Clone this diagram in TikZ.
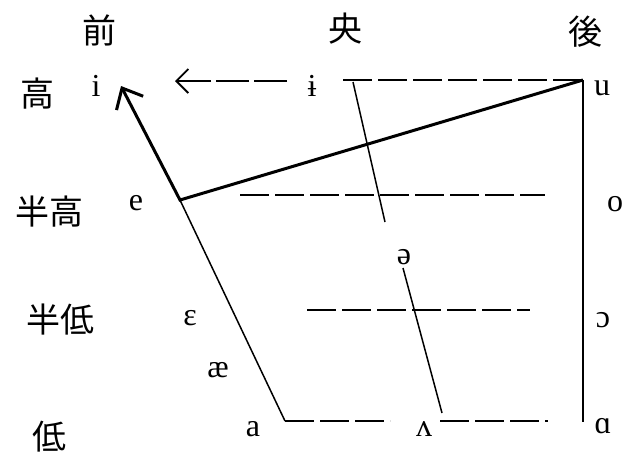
\documentclass[tikz,border=0pt]{standalone}
\usepackage{fontspec}
\setmainfont{Liberation Serif}
\newfontfamily\cjk{Noto Sans CJK JP}
\usetikzlibrary{arrows.meta}
\tikzset{
  lbl/.style={inner sep=0pt, font=\cjk\fontsize{34}{34}\selectfont},
  vow/.style={inner sep=0pt, anchor=base, font=\fontsize{32}{32}\selectfont},
  thinln/.style={line width=1.5pt},
  dashln/.style={line width=1.6pt, dash pattern=on 29pt off 6pt},
  thickln/.style={line width=3pt, line join=miter}
}
\begin{document}
\begin{tikzpicture}[x=1pt,y=-1pt]
\useasboundingbox (0,0) rectangle (622,459);
% axis labels
\node[lbl] (front) at (99,30) {前};
\node[lbl] (central) at (345,29) {央};
\node[lbl] (back) at (585,32) {後};
\node[lbl] (high) at (37,94) {高};
\node[lbl] (mhigh) at (50,212) {半高};
\node[lbl] (mlow) at (61,320) {半低};
\node[lbl] (low) at (49,437) {低};
% vowels
\node[vow] (vi) at (96,96) {i};
\node[vow] (vbi) at (312,96) {ɨ};
\node[vow] (vu) at (602,95) {u};
\node[vow] (ve) at (136,210) {e};
\node[vow] (vo) at (615,211) {o};
\node[vow] (vschwa) at (404,264) {ə};
\node[vow] (veps) at (190,325) {ɛ};
\node[vow] (vopeno) at (603,327) {ɔ};
\node[vow] (vae) at (218,377) {æ};
\node[vow] (va) at (253,436) {a};
\node[vow] (vwedge) at (424,436) {ʌ};
\node[vow] (valpha) at (603,433) {ɑ};
% corners
\coordinate (uC) at (583,80);
\coordinate (uB) at (583,422);
\coordinate (eC) at (180,200);
\coordinate (iT) at (121,86);
\coordinate (aC) at (285,421);
\coordinate (aD) at (390,421);
\coordinate (wR) at (440,421);
\coordinate (wE) at (548,421);
\coordinate (arrS) at (287,81);
\coordinate (arrT) at (175,81);
\coordinate (bS) at (343,80);
\coordinate (ceT) at (353,82);
\coordinate (ceB) at (385,222);
\coordinate (scT) at (403,268);
\coordinate (scB) at (442,413);
\coordinate (mhL) at (240,195);
\coordinate (mhR) at (545,195);
\coordinate (mlL) at (307,310);
\coordinate (mlR) at (530,310);
% lines
\draw[line width=1.7pt] (uC) -- (uB);
\draw[dashln] (bS) -- (uC);
\draw[dashln, dash pattern=on 33pt off 5pt, -{Straight Barb[length=12pt,width=24pt,line width=1.8pt]}] (arrS) -- (arrT);
\draw[dashln] (mhL) -- (mhR);
\draw[dashln] (mlL) -- (mlR);
\draw[dashln] (aC) -- (aD);
\draw[dashln] (wR) -- (wE);
\draw[thinln] (eC) -- (aC);
\draw[thinln] (ceT) -- (ceB);
\draw[thinln] (scT) -- (scB);
\draw[thickln, -{Straight Barb[length=17pt,width=30pt,line width=3pt]}] (uC) -- (eC) -- (iT);
\end{tikzpicture}
\end{document}
